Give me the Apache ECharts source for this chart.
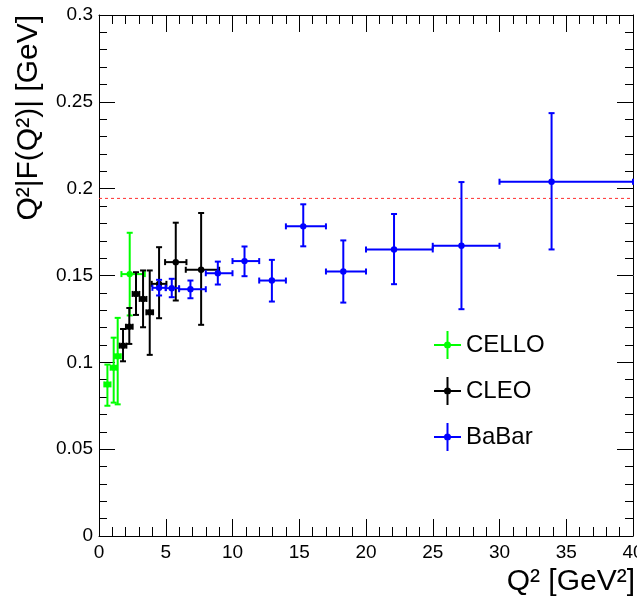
<!DOCTYPE html>
<html>
<head>
<meta charset="utf-8">
<title>Q2 F(Q2) form factor</title>
<script src="https://cdn.jsdelivr.net/npm/echarts@6/dist/echarts.min.js"></script>
</head>
<body style="margin:0">
<div id="main" style="width:637px;height:597px"></div>
<script>
// values: Q2 [GeV2] with bin edges, Q2|F| [GeV] with error ends
var celloQ2   = [0.63, 1.1, 1.4, 2.3];
var celloQ2Lo = [0.4, 0.87, 1.17, 1.68];
var celloQ2Hi = [0.86, 1.33, 1.63, 3.43];
var celloFF   = [0.0873, 0.0969, 0.1035, 0.1508];
var celloFFLo = [0.0750, 0.0768, 0.0758, 0.127];
var celloFFHi = [0.0987, 0.1142, 0.1256, 0.1746];

var cleoQ2   = [1.8, 2.27, 2.77, 3.3, 3.8, 4.5, 5.75, 7.65];
var cleoQ2Lo = [1.55, 2.02, 2.52, 3.05, 3.55, 3.95, 4.95, 6.5];
var cleoQ2Hi = [2.05, 2.52, 3.02, 3.55, 4.05, 5.05, 6.55, 9.0];
var cleoFF   = [0.1096, 0.1205, 0.1394, 0.1365, 0.1288, 0.1452, 0.1577, 0.1533];
var cleoFFLo = [0.1006, 0.1106, 0.1273, 0.1202, 0.1043, 0.1254, 0.1356, 0.1216];
var cleoFFHi = [0.1192, 0.1313, 0.1519, 0.1529, 0.1529, 0.1663, 0.1804, 0.186];

var babarQ2   = [4.5, 5.45, 6.85, 8.9, 10.9, 12.95, 15.3, 18.3, 22.1, 27.15, 33.9];
var babarQ2Lo = [4, 5, 6, 8, 10, 12, 14, 17, 20, 25, 30];
var babarQ2Hi = [5, 6, 8, 10, 12, 14, 17, 20, 25, 30, 40];
var babarFF   = [0.1429, 0.1427, 0.1421, 0.1513, 0.1583, 0.1471, 0.1783, 0.1523, 0.165, 0.1671, 0.204];
var babarFFLo = [0.1385, 0.1375, 0.1369, 0.1448, 0.1496, 0.135, 0.1668, 0.1344, 0.145, 0.1306, 0.165];
var babarFFHi = [0.1475, 0.1481, 0.1471, 0.158, 0.1667, 0.159, 0.191, 0.1702, 0.1854, 0.2038, 0.2435];

var asymptote = 0.1944;

var FONT = '"Liberation Sans", Arial, Helvetica, sans-serif';

function rows(q, qlo, qhi, f, flo, fhi) {
  return q.map(function (v, i) { return [v, f[i], qlo[i], qhi[i], flo[i], fhi[i]]; });
}

// error bars with end caps + dot marker
function renderErr(params, api) {
  var x = api.value(0), y = api.value(1);
  var c = api.coord([x, y]);
  var l = api.coord([api.value(2), y]);
  var r = api.coord([api.value(3), y]);
  var b = api.coord([x, api.value(4)]);
  var t = api.coord([x, api.value(5)]);
  var col = api.visual('color');
  var st = { stroke: col, lineWidth: 2 };
  var cap = 3;
  function line(x1, y1, x2, y2) {
    return { type: 'line', shape: { x1: x1, y1: y1, x2: x2, y2: y2 }, style: st };
  }
  return {
    type: 'group',
    children: [
      line(l[0], c[1], r[0], c[1]),
      line(l[0], c[1] - cap, l[0], c[1] + cap),
      line(r[0], c[1] - cap, r[0], c[1] + cap),
      line(c[0], b[1], c[0], t[1]),
      line(c[0] - cap, b[1], c[0] + cap, b[1]),
      line(c[0] - cap, t[1], c[0] + cap, t[1]),
      { type: 'circle', shape: { cx: c[0], cy: c[1], r: 3.2 }, style: { fill: col } }
    ]
  };
}

var crossIcon = 'path://M0,13L27,13L27,15L0,15Z M12.5,0L14.5,0L14.5,28L12.5,28Z M10,14A3.5,3.5 0 1 1 17,14A3.5,3.5 0 1 1 10,14Z';

function xAx(pos, labels) {
  return {
    type: 'value', min: 0, max: 40, interval: 5, position: pos,
    axisLine: { show: true, onZero: false, lineStyle: { color: '#000', width: 1 } },
    axisTick: { show: true, inside: true, length: 17, lineStyle: { color: '#000' } },
    minorTick: { show: true, splitNumber: 5, length: 9, lineStyle: { color: '#000' } },
    splitLine: { show: false },
    axisLabel: { show: labels, fontSize: 19, fontFamily: FONT, color: '#000', margin: 7 }
  };
}
function yAx(pos, labels) {
  return {
    type: 'value', min: 0, max: 0.3, interval: 0.05, position: pos,
    axisLine: { show: true, onZero: false, lineStyle: { color: '#000', width: 1 } },
    axisTick: { show: true, inside: true, length: 16, lineStyle: { color: '#000' } },
    minorTick: { show: true, splitNumber: 5, length: 8, lineStyle: { color: '#000' } },
    splitLine: { show: false },
    axisLabel: { show: labels, fontSize: 19, fontFamily: FONT, color: '#000', margin: 6 }
  };
}

var chart = echarts.init(document.getElementById('main'), null, { renderer: 'canvas' });
chart.setOption({
  animation: false,
  backgroundColor: '#fff',
  grid: { left: 99, right: 4, top: 15, bottom: 61, outerBoundsMode: 'none', containLabel: false },
  xAxis: [xAx('bottom', true), xAx('top', false)],
  yAxis: [yAx('left', true), yAx('right', false)],
  legend: {
    orient: 'vertical', left: 429, top: 326,
    itemWidth: 27, itemHeight: 28, itemGap: 18,
    selectedMode: false,
    textStyle: { fontSize: 24, fontFamily: FONT, color: '#000', padding: [0, 0, 0, 0] },
    data: [
      { name: 'CELLO', icon: crossIcon },
      { name: 'CLEO', icon: crossIcon },
      { name: 'BaBar', icon: crossIcon }
    ]
  },
  graphic: [
    {
      type: 'text', x: 29, y: 15, rotation: Math.PI / 2,
      style: {
        text: 'Q²|F(Q²)| [GeV]', font: '30px ' + FONT, fill: '#000',
        textAlign: 'right', textVerticalAlign: 'middle', align: 'right', verticalAlign: 'middle'
      }
    },
    {
      type: 'text', x: 635, y: 582,
      style: {
        text: 'Q² [GeV²]', font: '30px ' + FONT, fill: '#000',
        textAlign: 'right', textVerticalAlign: 'middle', align: 'right', verticalAlign: 'middle'
      }
    }
  ],
  series: [
    {
      name: 'asymptote', type: 'line', silent: true, z: 1, symbol: 'none',
      data: [[0, asymptote], [40, asymptote]],
      lineStyle: { color: '#ff3030', width: 1, type: [3, 3] }
    },
    {
      name: 'CELLO', type: 'custom', z: 3, renderItem: renderErr,
      itemStyle: { color: '#00ff00' },
      encode: { x: 0, y: 1 },
      data: rows(celloQ2, celloQ2Lo, celloQ2Hi, celloFF, celloFFLo, celloFFHi)
    },
    {
      name: 'CLEO', type: 'custom', z: 4, renderItem: renderErr,
      itemStyle: { color: '#000000' },
      encode: { x: 0, y: 1 },
      data: rows(cleoQ2, cleoQ2Lo, cleoQ2Hi, cleoFF, cleoFFLo, cleoFFHi)
    },
    {
      name: 'BaBar', type: 'custom', z: 5, renderItem: renderErr,
      itemStyle: { color: '#0000ff' },
      encode: { x: 0, y: 1 },
      data: rows(babarQ2, babarQ2Lo, babarQ2Hi, babarFF, babarFFLo, babarFFHi)
    }
  ]
});
window.addEventListener('resize', chart.resize);
</script>
</body>
</html>
